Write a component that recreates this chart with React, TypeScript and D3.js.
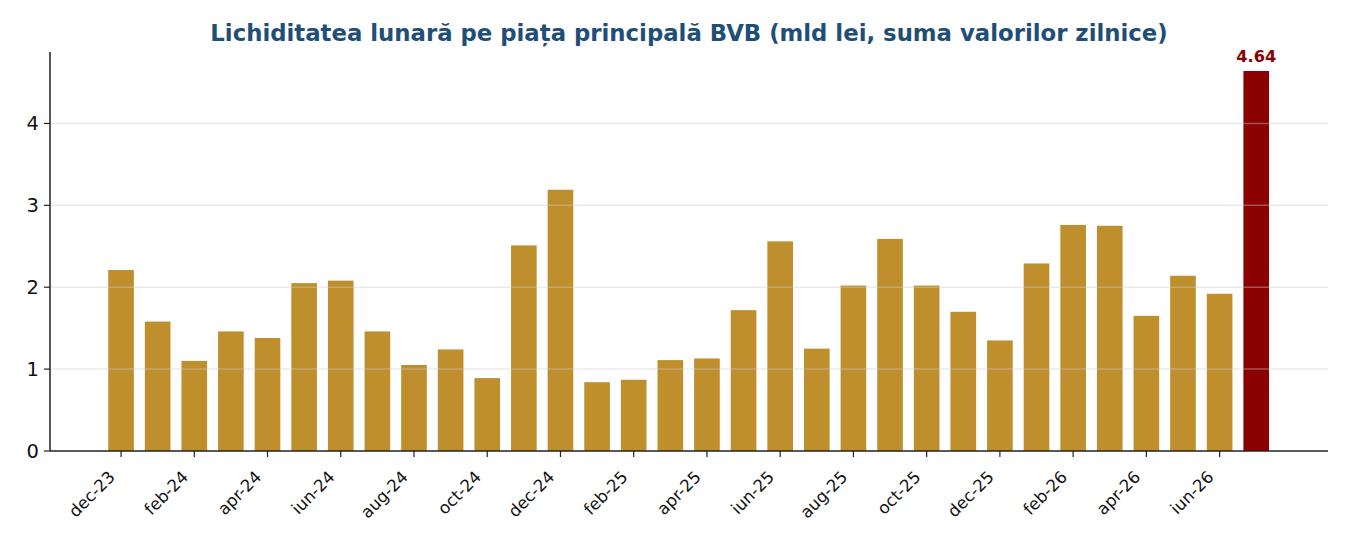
import React from "react";
import * as d3 from "d3";

const months = [
  "dec-23","ian-24","feb-24","mar-24","apr-24","mai-24","iun-24","iul-24","aug-24","sep-24","oct-24","nov-24",
  "dec-24","ian-25","feb-25","mar-25","apr-25","mai-25","iun-25","iul-25","aug-25","sep-25","oct-25","nov-25",
  "dec-25","ian-26","feb-26","mar-26","apr-26","mai-26","iun-26","iul-26",
];
const values = [
  2.21, 1.58, 1.10, 1.46, 1.38, 2.05, 2.08, 1.46, 1.05, 1.24, 0.89, 2.51,
  3.19, 0.84, 0.87, 1.11, 1.13, 1.72, 2.56, 1.25, 2.02, 2.59, 2.02, 1.70,
  1.35, 2.29, 2.76, 2.75, 1.65, 2.14, 1.92, 4.64,
];
const yTicks = [0, 1, 2, 3, 4];
const title = "Lichiditatea lunară pe piața principală BVB (mld lei, suma valorilor zilnice)";

const W = 1350, H = 540;
const M = { left: 50, right: 22, top: 52, bottom: 89 };

export default function App() {
  const x = d3.scaleLinear().domain([-1.94, months.length - 1 + 1.96]).range([M.left, W - M.right]);
  const y = d3.scaleLinear().domain([0, 4.872]).range([H - M.bottom, M.top]);
  const pitch = x(1) - x(0);
  const bw = pitch * 0.7;
  const last = values.length - 1;
  return (
    <svg width={W} height={H} style={{ position: "absolute", left: 0, top: 0, background: "#fff" }}>
      <text x={(M.left + W - M.right) / 2} y={41} textAnchor="middle" fontFamily="DejaVu Sans" fontWeight="bold" fontSize={22.8} fill="#1f4e79">{title}</text>
      {values.map((v, i) => (
        <rect key={i} x={x(i) - bw / 2} y={y(v)} width={bw} height={y(0) - y(v)} fill={i === last ? "#8b0000" : "#bf8f2e"} />
      ))}
      {yTicks.slice(1).map((t) => (
        <line key={t} x1={M.left} x2={W - M.right} y1={y(t)} y2={y(t)} stroke="#cccccc" strokeOpacity={0.4} strokeWidth={1.5} />
      ))}
      <text x={x(last)} y={y(values[last]) - 9} textAnchor="middle" fontFamily="DejaVu Sans" fontWeight="bold" fontSize={16.2} fill="#8b0000">{values[last].toFixed(2)}</text>
      <line x1={M.left} x2={M.left} y1={M.top} y2={y(0)} stroke="#222" strokeWidth={1.5} />
      <line x1={M.left} x2={W - M.right} y1={y(0)} y2={y(0)} stroke="#222" strokeWidth={1.5} />
      {yTicks.map((t) => (
        <g key={t}>
          <line x1={M.left - 6} x2={M.left} y1={y(t)} y2={y(t)} stroke="#222" strokeWidth={1.2} />
          <text x={M.left - 11} y={y(t)} dy="0.36em" textAnchor="end" fontFamily="DejaVu Sans" fontSize={19.5} fill="#111">{t}</text>
        </g>
      ))}
      {months.map((m, i) => i % 2 === 0 ? (
        <g key={m}>
          <line x1={x(i)} x2={x(i)} y1={y(0)} y2={y(0) + 6} stroke="#222" strokeWidth={1.2} />
          <text transform={`translate(${x(i) - 5},${y(0) + 27}) rotate(-45)`} textAnchor="end" fontFamily="DejaVu Sans" fontSize={16.6} fill="#111">{m}</text>
        </g>
      ) : null)}
    </svg>
  );
}
